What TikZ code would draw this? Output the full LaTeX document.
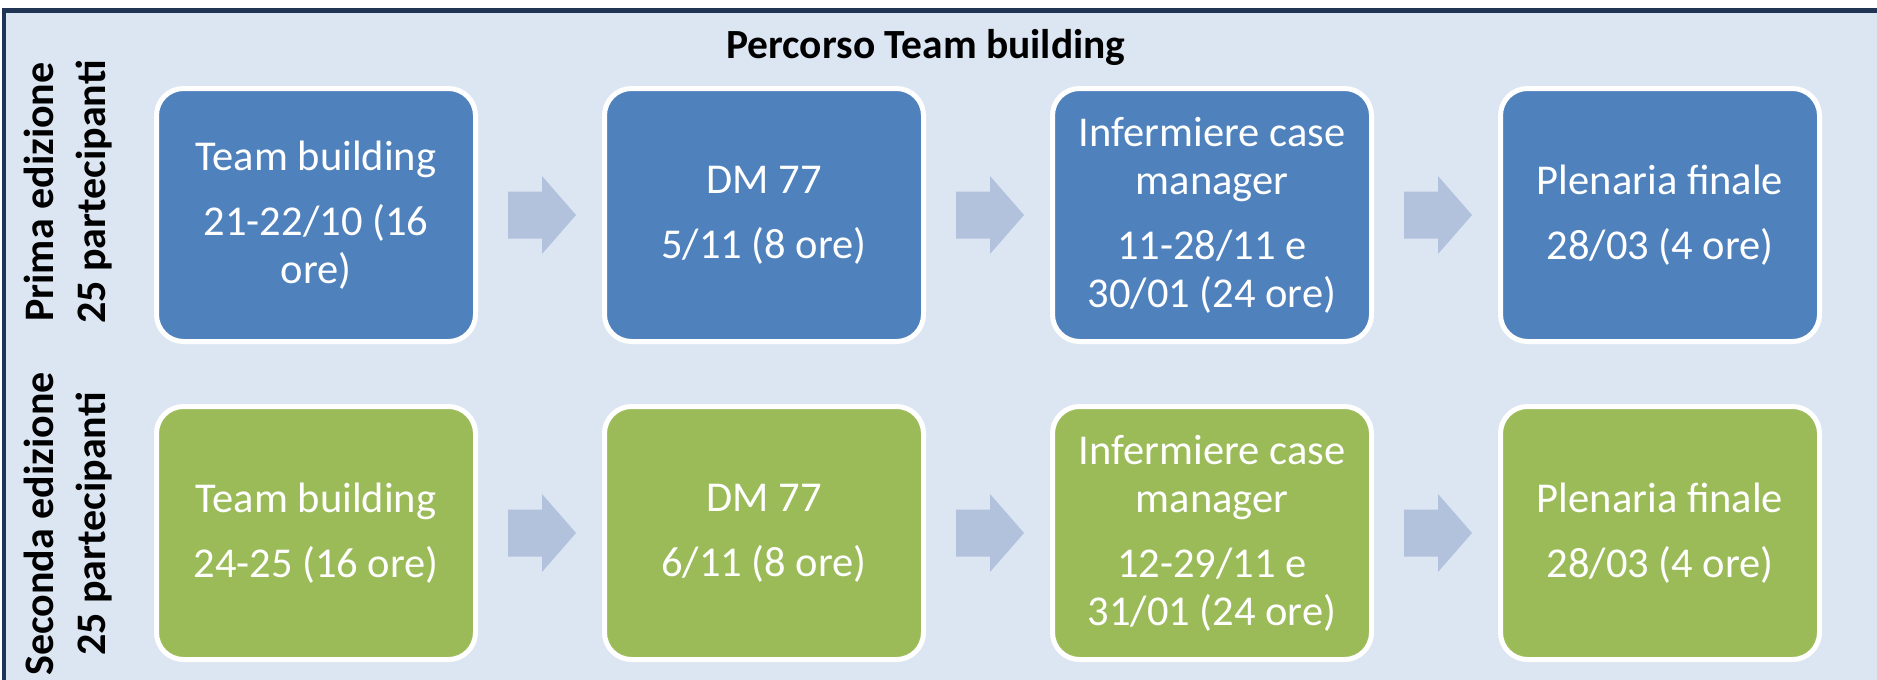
\documentclass[tikz,border=0pt]{standalone}
\usepackage{fontspec}
\setmainfont{Carlito}
\usetikzlibrary{calc}
\definecolor{bgblue}{HTML}{DCE6F2}
\definecolor{framec}{HTML}{1F3553}
\definecolor{boxblue}{HTML}{4F81BD}
\definecolor{boxgreen}{HTML}{9BBB59}
\definecolor{arrowc}{HTML}{B3C2DC}
\tikzset{
  stepbox/.style={draw=white, line width=5pt, rounded corners=27pt,
    minimum width=319pt, minimum height=253pt, text=white, align=center,
    inner sep=0pt, font=\fontsize{42.5}{48}\selectfont},
  bluebox/.style={stepbox, fill=boxblue},
  greenbox/.style={stepbox, fill=boxgreen},
  sidelabel/.style={rotate=90, align=center, inner sep=0pt,
    font=\bfseries\fontsize{42}{52}\selectfont},
  blockarrow/.style={fill=arrowc, draw=none}
}
\newcommand{\pgap}{\\[17pt]}
\begin{document}
\begin{tikzpicture}[x=1pt,y=-1pt]
\useasboundingbox (0,0) rectangle (1877,680);
% background panel with frame (top and left visible)
\fill[bgblue] (1.5,8.3) rectangle (1877,680);
\fill[framec] (1.5,8.3) rectangle (1877,12.7);
\fill[framec] (1.5,8.3) rectangle (6,680);

\node[font=\bfseries\fontsize{41.5}{48}\selectfont, inner sep=0pt] (title) at (926,47) {Percorso Team building};

\node[sidelabel] (lab1) at (68,192) {Prima edizione\\25 partecipanti};
\node[sidelabel] (lab2) at (68,524) {Seconda edizione\\25 partecipanti};

% row 1
\node[bluebox] (a1) at (316,215) {Team building\pgap 21-22/10 (16\\ore)};
\node[bluebox] (a2) at (764,215) {DM 77\pgap 5/11 (8 ore)};
\node[bluebox] (a3) at (1212,215) {Infermiere case\\manager\pgap 11-28/11 e\\30/01 (24 ore)};
\node[bluebox] (a4) at (1660,215) {Plenaria finale\pgap 28/03 (4 ore)};
% row 2
\node[greenbox] (b1) at (316,533) {Team building\pgap 24-25 (16 ore)};
\node[greenbox] (b2) at (764,533) {DM 77\pgap 6/11 (8 ore)};
\node[greenbox] (b3) at (1212,533) {Infermiere case\\manager\pgap 12-29/11 e\\31/01 (24 ore)};
\node[greenbox] (b4) at (1660,533) {Plenaria finale\pgap 28/03 (4 ore)};

% block arrows between boxes
\foreach \p/\q in {a1/a2,a2/a3,a3/a4,b1/b2,b2/b3,b3/b4}{
  \coordinate (m) at ($(\p.east)!0.5!(\q.west)+(2,0)$);
  \fill[blockarrow] ($(m)+(-34,-23.5)$) -- ($(m)+(0,-23.5)$) -- ($(m)+(0,-39)$)
    -- ($(m)+(34,0)$) -- ($(m)+(0,39)$) -- ($(m)+(0,23.5)$) -- ($(m)+(-34,23.5)$) -- cycle;
}
\end{tikzpicture}
\end{document}
